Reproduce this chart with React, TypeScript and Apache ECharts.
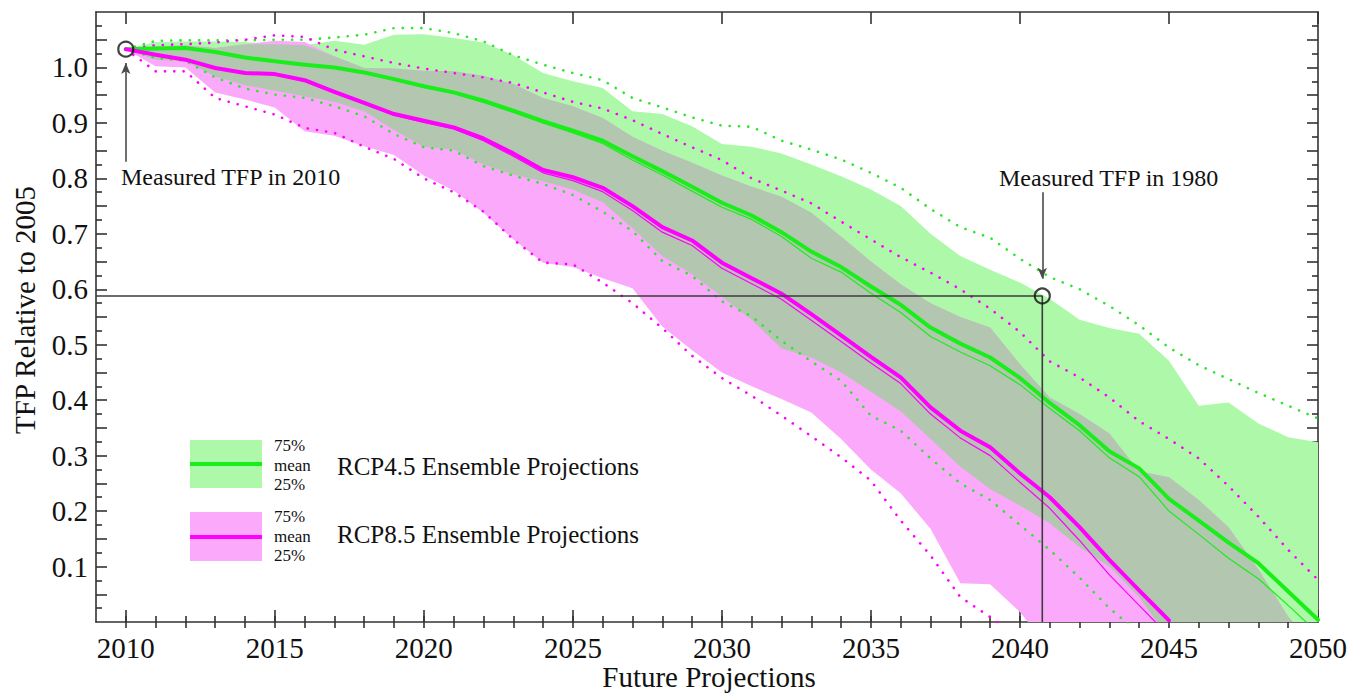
import React, { useEffect, useRef } from "react";
import * as echarts from "echarts";

const FONT = "'Liberation Serif', 'Times New Roman', Times, serif";

// ---------- categories / ticks ----------
const years = [
  2010, 2011, 2012, 2013, 2014, 2015, 2016, 2017, 2018, 2019,
  2020, 2021, 2022, 2023, 2024, 2025, 2026, 2027, 2028, 2029,
  2030, 2031, 2032, 2033, 2034, 2035, 2036, 2037, 2038, 2039,
  2040, 2041, 2042, 2043, 2044, 2045, 2046, 2047, 2048, 2049, 2050,
];
const xTickLabels = [2010, 2015, 2020, 2025, 2030, 2035, 2040, 2045, 2050];
const xMinorTicks = [
  2010, 2011, 2012, 2013, 2014, 2015, 2016, 2017, 2018, 2019,
  2020, 2021, 2022, 2023, 2024, 2025, 2026, 2027, 2028, 2029,
  2030, 2031, 2032, 2033, 2034, 2035, 2036, 2037, 2038, 2039,
  2040, 2041, 2042, 2043, 2044, 2045, 2046, 2047, 2048, 2049,
];
const yTickLabels = [0.1, 0.2, 0.3, 0.4, 0.5, 0.6, 0.7, 0.8, 0.9, 1.0];
const yMajorTicks = [
  0.05, 0.1, 0.15, 0.2, 0.25, 0.3, 0.35, 0.4, 0.45, 0.5, 0.55,
  0.6, 0.65, 0.7, 0.75, 0.8, 0.85, 0.9, 0.95, 1.0, 1.05,
];
const yMinorTicks = [
  0.025, 0.075, 0.125, 0.175, 0.225, 0.275, 0.325, 0.375, 0.425, 0.475, 0.525,
  0.575, 0.625, 0.675, 0.725, 0.775, 0.825, 0.875, 0.925, 0.975, 1.025, 1.075,
];

// ---------- RCP4.5 (green) ----------
const rcp45Mean = [
  1.033, 1.034, 1.035, 1.028, 1.018, 1.011, 1.005, 1.0, 0.991, 0.979,
  0.966, 0.955, 0.94, 0.922, 0.903, 0.886, 0.868, 0.84, 0.813, 0.785,
  0.756, 0.733, 0.703, 0.668, 0.64, 0.605, 0.572, 0.531, 0.502, 0.477,
  0.44, 0.395, 0.355, 0.308, 0.277, 0.222, 0.183, 0.143, 0.106, 0.055, 0.004,
];
const rcp45Median = [
  1.033, 1.034, 1.034, 1.027, 1.017, 1.01, 1.004, 0.999, 0.99, 0.977,
  0.964, 0.953, 0.937, 0.919, 0.9, 0.882, 0.863, 0.833, 0.806, 0.777,
  0.748, 0.726, 0.695, 0.656, 0.631, 0.593, 0.558, 0.515, 0.487, 0.462,
  0.428, 0.385, 0.345, 0.296, 0.262, 0.2, 0.158, 0.115, 0.078, 0.03, -0.02,
];
const rcp45Q75 = [
  1.033, 1.046, 1.047, 1.047, 1.046, 1.042, 1.04, 1.048, 1.041, 1.059,
  1.06, 1.053, 1.045, 1.022, 0.99, 0.975, 0.963, 0.921, 0.916, 0.894,
  0.862, 0.857, 0.845, 0.825, 0.804, 0.78, 0.75, 0.7, 0.66, 0.635,
  0.612, 0.583, 0.545, 0.53, 0.52, 0.471, 0.39, 0.396, 0.358, 0.333, 0.324,
];
const rcp45Q25 = [
  1.033, 1.014, 1.011, 0.984, 0.968, 0.958, 0.948, 0.938, 0.921, 0.887,
  0.857, 0.852, 0.825, 0.807, 0.795, 0.78, 0.757, 0.71, 0.66, 0.627,
  0.587, 0.545, 0.493, 0.477, 0.45, 0.415, 0.38, 0.33, 0.28, 0.24,
  0.21, 0.178, 0.135, 0.1, 0.045, -0.03, -0.05, -0.05, -0.05, -0.05, -0.05,
];
const rcp45Max = [
  1.033, 1.048, 1.049, 1.049, 1.049, 1.05, 1.05, 1.054, 1.059, 1.071,
  1.071, 1.062, 1.047, 1.022, 1.005, 0.99, 0.977, 0.945, 0.928, 0.91,
  0.895, 0.893, 0.868, 0.852, 0.834, 0.81, 0.783, 0.745, 0.712, 0.693,
  0.655, 0.622, 0.6, 0.57, 0.535, 0.495, 0.463, 0.438, 0.413, 0.39, 0.367,
];
const rcp45Min = [
  1.033, 1.017, 1.012, 0.982, 0.962, 0.951, 0.945, 0.93, 0.912, 0.88,
  0.856, 0.85, 0.822, 0.805, 0.79, 0.77, 0.74, 0.705, 0.651, 0.624,
  0.578, 0.551, 0.507, 0.47, 0.435, 0.372, 0.345, 0.295, 0.25, 0.22,
  0.175, 0.13, 0.08, 0.025, -0.02, null, null, null, null, null, null,
];

// ---------- RCP8.5 (magenta) ----------
const rcp85Mean = [
  1.033, 1.023, 1.014, 0.999, 0.99, 0.988, 0.977, 0.956, 0.936, 0.916,
  0.904, 0.892, 0.872, 0.845, 0.815, 0.802, 0.783, 0.75, 0.712, 0.688,
  0.648, 0.62, 0.592, 0.555, 0.517, 0.478, 0.441, 0.387, 0.345, 0.315,
  0.268, 0.225, 0.171, 0.112, 0.057, 0.003, null, null, null, null, null,
];
const rcp85Median = [
  1.033, 1.022, 1.013, 0.998, 0.989, 0.987, 0.975, 0.954, 0.934, 0.914,
  0.901, 0.889, 0.868, 0.84, 0.81, 0.796, 0.776, 0.742, 0.703, 0.679,
  0.638, 0.61, 0.582, 0.544, 0.506, 0.467, 0.43, 0.375, 0.332, 0.3,
  0.252, 0.205, 0.147, 0.085, 0.03, -0.025, null, null, null, null, null,
];
const rcp85Q75 = [
  1.033, 1.038, 1.04, 1.035, 1.042, 1.048, 1.046, 1.02, 0.999, 0.998,
  0.994, 0.993, 0.985, 0.97, 0.945, 0.93, 0.909, 0.875, 0.85, 0.828,
  0.805, 0.785, 0.767, 0.738, 0.695, 0.65, 0.609, 0.575, 0.55, 0.531,
  0.465, 0.405, 0.375, 0.34, 0.272, 0.261, 0.22, 0.171, 0.095, 0.01, -0.06,
];
const rcp85Q25 = [
  1.033, 1.002, 1.0, 0.955, 0.942, 0.928, 0.885, 0.877, 0.858, 0.842,
  0.805, 0.778, 0.738, 0.69, 0.648, 0.64, 0.62, 0.602, 0.533, 0.49,
  0.45, 0.425, 0.402, 0.378, 0.33, 0.275, 0.232, 0.168, 0.07, 0.068,
  0.018, -0.05, -0.05, -0.05, -0.05, -0.05, -0.05, -0.05, -0.05, -0.05, -0.05,
];
const rcp85Max = [
  1.033, 1.04, 1.042, 1.045, 1.05, 1.058, 1.055, 1.032, 1.02, 1.008,
  0.998, 0.99, 0.982, 0.972, 0.955, 0.938, 0.926, 0.905, 0.88, 0.856,
  0.833, 0.8, 0.778, 0.755, 0.722, 0.69, 0.658, 0.63, 0.6, 0.565,
  0.523, 0.47, 0.441, 0.405, 0.362, 0.33, 0.295, 0.245, 0.19, 0.13, 0.076,
];
const rcp85Min = [
  1.033, 0.993, 0.993, 0.945, 0.93, 0.915, 0.891, 0.882, 0.857, 0.835,
  0.8, 0.775, 0.74, 0.69, 0.648, 0.645, 0.612, 0.575, 0.53, 0.48,
  0.44, 0.408, 0.372, 0.335, 0.297, 0.255, 0.183, 0.12, 0.045, 0.009,
  -0.03, null, null, null, null, null, null, null, null, null, null,
];

// ---------- annotations ----------
const measured2010 = [2010, 1.033];
const measured1980 = [2040.75, 0.588];
const annotationLabels = ["Measured TFP in 2010", "Measured TFP in 1980"];
const legendLabels = ["RCP4.5 Ensemble Projections", "RCP8.5 Ensemble Projections"];
const legendKey = "75%\nmean\n25%";

// overlap of the two inter-quartile bands (derived from the arrays above)
const overlapUpper = years.map((_, i) => Math.min(rcp45Q75[i], rcp85Q75[i]));
const overlapLower = years.map((_, i) => Math.max(rcp45Q25[i], rcp85Q25[i]));
const overlapTop = overlapUpper.map((u, i) => Math.max(u, overlapLower[i]));

const GREEN = "#1aee1a";
const MAGENTA = "#ff00ff";
const GREEN_BAND = "#aef8a9";
const PINK_BAND = "#fba9fb";
const GRAY_BAND = "#b3c6b0";
const AXIS = "#333333";
const TEXT = "#111111";

function bandSeries(name: string, upper: number[], lower: number[], color: string) {
  return {
    type: "custom",
    name,
    clip: true,
    silent: true,
    data: years.map((y, i) => [y, upper[i], lower[i]]),
    renderItem: (params: any, api: any) => {
      if (params.dataIndex !== 0) return null;
      const pts: number[][] = [];
      for (let i = 0; i < years.length; i++) pts.push(api.coord([years[i], upper[i]]));
      for (let i = years.length - 1; i >= 0; i--) pts.push(api.coord([years[i], lower[i]]));
      return { type: "polygon", shape: { points: pts }, style: { fill: color } };
    },
  };
}

function lineSeries(name: string, values: (number | null)[], color: string, width: number, dotted = false) {
  return {
    type: "line",
    name,
    clip: true,
    silent: true,
    symbol: "none",
    showSymbol: false,
    data: years.map((y, i) => [y, values[i]]),
    lineStyle: dotted
      ? { color, width: 2.6, type: [0.1, 9.2], cap: "round" }
      : { color, width, type: "solid", cap: "round", join: "round" },
  };
}

export default function App() {
  const ref = useRef<HTMLDivElement>(null);

  useEffect(() => {
    if (!ref.current) return;
    const chart = echarts.init(ref.current, undefined, { renderer: "svg" });

    const axisLineStyle = { color: AXIS, width: 1.6 };
    const xBase = { type: "value", min: 2009, max: 2050, splitLine: { show: false } };
    const yBase = { type: "value", min: 0, max: 1.1, splitLine: { show: false } };

    const legendKeyStyle = {
      text: legendKey,
      fontSize: 17,
      lineHeight: 19.5,
      fontFamily: FONT,
      fill: TEXT,
      align: "left",
      verticalAlign: "middle",
    };

    const option: any = {
      animation: false,
      backgroundColor: "#ffffff",
      grid: { left: 96, top: 12, right: 43, bottom: 74, containLabel: false },
      xAxis: [
        {
          ...xBase,
          position: "bottom",
          axisLine: { show: true, onZero: false, lineStyle: axisLineStyle },
          axisTick: { show: true, inside: true, length: 12, customValues: xTickLabels, lineStyle: axisLineStyle },
          axisLabel: {
            show: true,
            customValues: xTickLabels,
            fontSize: 29,
            fontFamily: FONT,
            color: TEXT,
            margin: 11,
            formatter: (v: number) => String(v),
          },
        },
        {
          ...xBase,
          position: "bottom",
          axisLine: { show: false },
          axisTick: { show: true, inside: true, length: 6, customValues: xMinorTicks, lineStyle: axisLineStyle },
          axisLabel: { show: false },
        },
        {
          ...xBase,
          position: "top",
          axisLine: { show: true, onZero: false, lineStyle: axisLineStyle },
          axisTick: { show: true, inside: true, length: 12, customValues: xTickLabels, lineStyle: axisLineStyle },
          axisLabel: { show: false },
        },
        {
          ...xBase,
          position: "top",
          axisLine: { show: false },
          axisTick: { show: true, inside: true, length: 6, customValues: xMinorTicks, lineStyle: axisLineStyle },
          axisLabel: { show: false },
        },
      ],
      yAxis: [
        {
          ...yBase,
          position: "left",
          axisLine: { show: true, onZero: false, lineStyle: axisLineStyle },
          axisTick: { show: true, inside: true, length: 11, customValues: yMajorTicks, lineStyle: axisLineStyle },
          axisLabel: {
            show: true,
            customValues: yTickLabels,
            fontSize: 29,
            fontFamily: FONT,
            color: TEXT,
            margin: 8,
            formatter: (v: number) => v.toFixed(1),
          },
        },
        {
          ...yBase,
          position: "left",
          axisLine: { show: false },
          axisTick: { show: true, inside: true, length: 6, customValues: yMinorTicks, lineStyle: axisLineStyle },
          axisLabel: { show: false },
        },
        {
          ...yBase,
          position: "right",
          axisLine: { show: true, onZero: false, lineStyle: axisLineStyle },
          axisTick: { show: true, inside: true, length: 11, customValues: yMajorTicks, lineStyle: axisLineStyle },
          axisLabel: { show: false },
        },
        {
          ...yBase,
          position: "right",
          axisLine: { show: false },
          axisTick: { show: true, inside: true, length: 6, customValues: yMinorTicks, lineStyle: axisLineStyle },
          axisLabel: { show: false },
        },
      ],
      series: [
        bandSeries("RCP4.5 25-75%", rcp45Q75, rcp45Q25, GREEN_BAND),
        bandSeries("RCP8.5 25-75%", rcp85Q75, rcp85Q25, PINK_BAND),
        bandSeries("overlap", overlapTop, overlapLower, GRAY_BAND),
        lineSeries("RCP4.5 max", rcp45Max, "#2fe52f", 2, true),
        lineSeries("RCP4.5 min", rcp45Min, "#2fe52f", 2, true),
        lineSeries("RCP8.5 max", rcp85Max, MAGENTA, 2, true),
        lineSeries("RCP8.5 min", rcp85Min, MAGENTA, 2, true),
        lineSeries("RCP4.5 median", rcp45Median, GREEN, 1.2),
        lineSeries("RCP8.5 median", rcp85Median, MAGENTA, 1.2),
        lineSeries("RCP4.5 mean", rcp45Mean, GREEN, 4),
        lineSeries("RCP8.5 mean", rcp85Mean, MAGENTA, 4),
        {
          type: "line",
          name: "reference",
          silent: true,
          symbol: "none",
          data: [
            [2009, measured1980[1]],
            [measured1980[0], measured1980[1]],
            [measured1980[0], 0],
          ],
          lineStyle: { color: "#3c3c3c", width: 1.6 },
          markLine: {
            silent: true,
            symbol: ["none", "arrow"],
            symbolSize: [7, 11],
            label: { show: false },
            lineStyle: { color: "#4a4a4a", width: 1.6, type: "solid" },
            data: [
              [{ coord: [2010, 0.83] }, { coord: [2010, 1.008] }],
              [{ coord: [measured1980[0], 0.775] }, { coord: [measured1980[0], 0.619] }],
            ],
          },
        },
        {
          type: "scatter",
          name: "measured",
          silent: true,
          symbol: "circle",
          symbolSize: 15,
          data: [measured2010, measured1980],
          itemStyle: { color: "rgba(0,0,0,0)", borderColor: "#111", borderWidth: 2.2 },
          z: 10,
        },
      ],
      graphic: [
        // axis titles
        {
          type: "text",
          x: 709,
          y: 677,
          style: { text: "Future Projections", fontSize: 29, fontFamily: FONT, fill: TEXT, align: "center", verticalAlign: "middle" },
        },
        {
          type: "text",
          x: 25,
          y: 310,
          rotation: Math.PI / 2,
          style: { text: "TFP Relative to 2005", fontSize: 29, fontFamily: FONT, fill: TEXT, align: "center", verticalAlign: "middle" },
        },
        // annotations
        {
          type: "text",
          x: 121,
          y: 177,
          style: { text: annotationLabels[0], fontSize: 24, fontFamily: FONT, fill: TEXT, align: "left", verticalAlign: "middle" },
        },
        {
          type: "text",
          x: 999,
          y: 178,
          style: { text: annotationLabels[1], fontSize: 24, fontFamily: FONT, fill: TEXT, align: "left", verticalAlign: "middle" },
        },
        // legend RCP4.5
        { type: "rect", shape: { x: 190, y: 440, width: 72, height: 48 }, style: { fill: GREEN_BAND } },
        { type: "line", shape: { x1: 190, y1: 464, x2: 262, y2: 464 }, style: { stroke: GREEN, lineWidth: 4 } },
        { type: "text", x: 274, y: 465, style: legendKeyStyle },
        { type: "text", x: 337, y: 466, style: { text: legendLabels[0], fontSize: 25, fontFamily: FONT, fill: TEXT, align: "left", verticalAlign: "middle" } },
        // legend RCP8.5
        { type: "rect", shape: { x: 190, y: 512, width: 72, height: 49 }, style: { fill: PINK_BAND } },
        { type: "line", shape: { x1: 190, y1: 537, x2: 262, y2: 537 }, style: { stroke: MAGENTA, lineWidth: 4 } },
        { type: "text", x: 274, y: 536, style: { ...legendKeyStyle } },
        { type: "text", x: 337, y: 534, style: { text: legendLabels[1], fontSize: 25, fontFamily: FONT, fill: TEXT, align: "left", verticalAlign: "middle" } },
      ],
    };

    chart.setOption(option);
    return () => chart.dispose();
  }, []);

  return (
    <div
      ref={ref}
      style={{ position: "fixed", left: 0, top: 0, width: 1361, height: 696, background: "#fff" }}
    />
  );
}
